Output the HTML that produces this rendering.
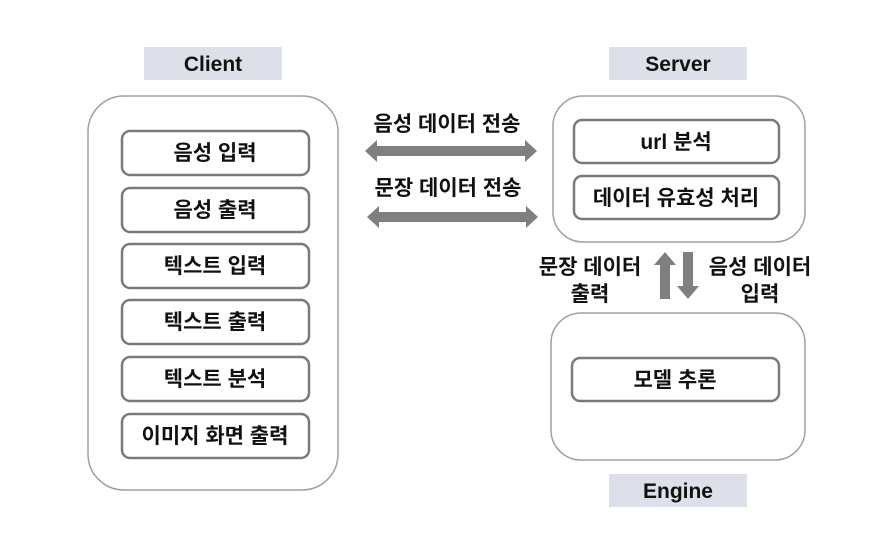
<!DOCTYPE html>
<html><head><meta charset="utf-8"><style>
body{margin:0;background:#fff;}
svg text{font-family:"Liberation Sans","Noto Sans CJK KR",sans-serif;font-weight:bold;fill:#111;text-anchor:middle;}
</style></head><body>
<svg width="888" height="548" xmlns="http://www.w3.org/2000/svg">
<rect x="144" y="47" width="138" height="33" fill="#dde0e8"/>
<text x="213" y="71" font-size="21">Client</text>
<rect x="609" y="47" width="138" height="33" fill="#dde0e8"/>
<text x="678" y="71" font-size="21">Server</text>
<rect x="609" y="474" width="138" height="33" fill="#dde0e8"/>
<text x="678" y="498" font-size="21">Engine</text>

<rect x="88" y="96" width="250" height="394" rx="36" fill="#fff" stroke="#a0a0a0" stroke-width="1.5"/>
<rect x="553" y="96" width="252" height="146" rx="30" fill="#fff" stroke="#a0a0a0" stroke-width="1.5"/>
<rect x="551" y="313" width="254" height="147" rx="30" fill="#fff" stroke="#a0a0a0" stroke-width="1.5"/>

<g fill="#fff" stroke="#7a7a7a" stroke-width="2.5">
<rect x="122" y="131" width="187" height="44" rx="8"/>
<rect x="122" y="188" width="187" height="44" rx="8"/>
<rect x="122" y="244" width="187" height="44" rx="8"/>
<rect x="122" y="300" width="187" height="44" rx="8"/>
<rect x="122" y="357" width="187" height="44" rx="8"/>
<rect x="122" y="414" width="187" height="44" rx="8"/>
<rect x="574" y="120" width="205" height="43" rx="8"/>
<rect x="574" y="176" width="205" height="43" rx="8"/>
<rect x="572" y="358" width="207" height="43" rx="8"/>
</g>
<g font-size="21">
<text x="215" y="160">음성 입력</text>
<text x="215" y="217">음성 출력</text>
<text x="215" y="273">텍스트 입력</text>
<text x="215" y="329">텍스트 출력</text>
<text x="215" y="386">텍스트 분석</text>
<text x="215" y="443">이미지 화면 출력</text>
<text x="676" y="149">url 분석</text>
<text x="676" y="205">데이터 유효성 처리</text>
<text x="675" y="387">모델 추론</text>
<text x="447" y="131">음성 데이터 전송</text>
<text x="448" y="195">문장 데이터 전송</text>
<text x="590" y="274">문장 데이터</text>
<text x="590" y="301">출력</text>
<text x="760" y="274">음성 데이터</text>
<text x="760" y="301">입력</text>
</g>
<g fill="#7f7f7f">
<polygon points="365,151 377,140 377,146 525,146 525,140 537,151 525,162 525,156 377,156 377,162"/>
<polygon points="367,217 379,206 379,212 526,212 526,206 538,217 526,228 526,222 379,222 379,228"/>
<polygon points="665,252 676,265 670,265 670,299 660,299 660,265 654,265"/>
<polygon points="688,299 677,286 683,286 683,252 693,252 693,286 699,286"/>
</g>
</svg>
</body></html>
